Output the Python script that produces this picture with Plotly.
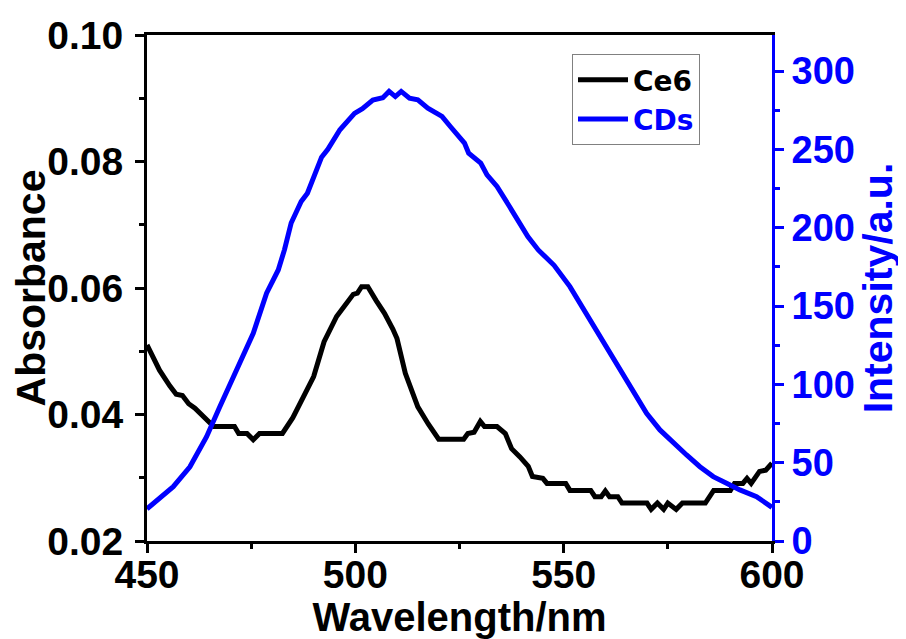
import plotly.graph_objects as go

# Ce6 absorbance
ce6_wl = [450.0, 453.0, 455.5, 457.0, 458.5, 460.0, 461.5, 463.0, 464.5, 466.0, 471.0, 472.0, 474.0,
          475.5, 477.0, 482.5, 485.0, 487.5, 490.0, 492.5, 495.5, 499.5, 500.5, 501.5, 503.0, 505.0,
          507.0, 509.0, 510.0, 512.0, 513.5, 515.0, 517.5, 520.0, 526.0, 527.0, 528.5, 530.0, 531.0,
          534.0, 536.0, 537.5, 539.5, 541.5, 542.5, 545.0, 546.0, 550.5, 551.5, 556.5, 557.5, 559.0,
          560.0, 561.0, 563.0, 564.0, 570.0, 571.0, 572.5, 574.0, 575.0, 577.0, 578.5, 584.0, 586.0,
          590.0, 591.0, 593.0, 594.0, 595.0, 597.0, 598.5, 600.0]
ce6_abs = [0.0510, 0.0470, 0.0445, 0.0432, 0.0430, 0.0417, 0.0410, 0.0400, 0.0392, 0.0381, 0.0381, 0.0370, 0.0370,
           0.0360, 0.0370, 0.0370, 0.0395, 0.0428, 0.0460, 0.0515, 0.0555, 0.0590, 0.0592, 0.0602, 0.0602, 0.0580,
           0.0560, 0.0535, 0.0520, 0.0465, 0.0440, 0.0412, 0.0385, 0.0361, 0.0361, 0.0370, 0.0372, 0.0389, 0.0381,
           0.0381, 0.0370, 0.0346, 0.0333, 0.0318, 0.0302, 0.0299, 0.0291, 0.0291, 0.0280, 0.0280, 0.0270, 0.0270,
           0.0279, 0.0270, 0.0270, 0.0260, 0.0260, 0.0250, 0.0260, 0.0250, 0.0260, 0.0250, 0.0260, 0.0260, 0.0280,
           0.0280, 0.0291, 0.0291, 0.0299, 0.0291, 0.0310, 0.0312, 0.0323]

# CDs fluorescence intensity
cds_wl = [450.0, 453.0, 456.3, 460.3, 464.3, 467.5, 469.5, 472.3, 475.5, 478.7, 481.5, 483.0, 484.6,
          487.0, 488.5, 491.9, 493.4, 496.3, 498.3, 499.8, 501.7, 504.2, 506.6, 508.1, 509.6, 511.0,
          513.0, 515.0, 517.4, 520.8, 522.8, 526.2, 527.2, 530.1, 531.6, 534.0, 537.0, 539.5, 541.4,
          543.9, 547.7, 551.5, 553.9, 557.1, 560.3, 563.1, 565.1, 567.1, 569.9, 573.1, 576.7, 579.5,
          582.7, 585.9, 589.1, 592.3, 596.3, 600.0]
cds_int = [20.5, 27.0, 34.7, 47.4, 66.6, 85.8, 97.5, 115.6, 132.6, 158.2, 173.0, 186.0, 203.0,
           216.7, 222.0, 245.0, 250.0, 262.5, 268.0, 273.0, 276.0, 281.5, 283.0, 287.0, 283.7, 287.0,
           282.7, 281.6, 276.3, 271.0, 264.6, 254.0, 247.6, 241.2, 233.7, 226.3, 213.5, 203.0, 194.3,
           185.8, 176.0, 162.4, 151.8, 137.9, 123.1, 111.3, 101.7, 94.3, 81.5, 70.9, 61.3, 54.9,
           47.4, 41.1, 36.8, 32.6, 28.3, 21.5]

FONT = "Liberation Sans"
BLUE = "#0000ff"

fig = go.Figure()
fig.add_trace(go.Scatter(x=ce6_wl, y=ce6_abs, mode="lines", name="Ce6",
                         line=dict(color="black", width=5), yaxis="y"))
fig.add_trace(go.Scatter(x=cds_wl, y=cds_int, mode="lines",
                         name="<span style='color:#0000ff'>CDs</span>",
                         line=dict(color=BLUE, width=5), yaxis="y2"))

fig.update_layout(
    width=898, height=631,
    margin=dict(l=139, r=134, t=27, b=98),
    paper_bgcolor="white", plot_bgcolor="white",
    font=dict(family=FONT, size=36, color="black", weight="bold"),
    showlegend=True,
    legend=dict(x=0.68, y=0.9625, xanchor="left", yanchor="top",
                bordercolor="#808080", borderwidth=1, bgcolor="white",
                font=dict(family="DejaVu Sans", size=28, color="black", weight="bold"),
                tracegroupgap=0, itemwidth=50),
    xaxis=dict(range=[450, 600], dtick=50, tick0=450, showgrid=False, zeroline=False, automargin=False,
               showline=True, linecolor="black", linewidth=3, mirror=True,
               ticks="outside", ticklen=9, tickwidth=3, tickcolor="black", ticklabelstandoff=-12,
               minor=dict(dtick=25, ticks="outside", ticklen=5, tickwidth=3, tickcolor="black", showgrid=False),
               tickfont=dict(family=FONT, size=39, color="black", weight="bold"),
               title=dict(text="Wavelength/nm", standoff=0,
                          font=dict(family=FONT, size=40, color="black", weight="bold"))),
    yaxis=dict(range=[0.02, 0.10], dtick=0.02, tick0=0.02, tickformat=".2f",
               showgrid=False, zeroline=False, automargin=False,
               showline=True, linecolor="black", linewidth=3,
               ticks="outside", ticklen=9, tickwidth=3, tickcolor="black", ticklabelstandoff=4,
               minor=dict(dtick=0.01, ticks="outside", ticklen=5, tickwidth=3, tickcolor="black", showgrid=False),
               tickfont=dict(family=FONT, size=39, color="black", weight="bold"),
               title=dict(text="Absorbance", standoff=4,
                          font=dict(family=FONT, size=41, color="black", weight="bold"))),
    yaxis2=dict(range=[0, 323], dtick=50, tick0=0, overlaying="y", side="right",
                showgrid=False, zeroline=False, automargin=False,
                showline=True, linecolor=BLUE, linewidth=3,
                ticks="outside", ticklen=9, tickwidth=3, tickcolor=BLUE,
                minor=dict(dtick=25, ticks="outside", ticklen=5, tickwidth=3, tickcolor=BLUE, showgrid=False),
                tickfont=dict(family=FONT, size=38, color=BLUE, weight="bold"),
                title=dict(text="Intensity/a.u.", standoff=6,
                           font=dict(family=FONT, size=41, color=BLUE, weight="bold"))),
)

fig.write_html("out.html")
